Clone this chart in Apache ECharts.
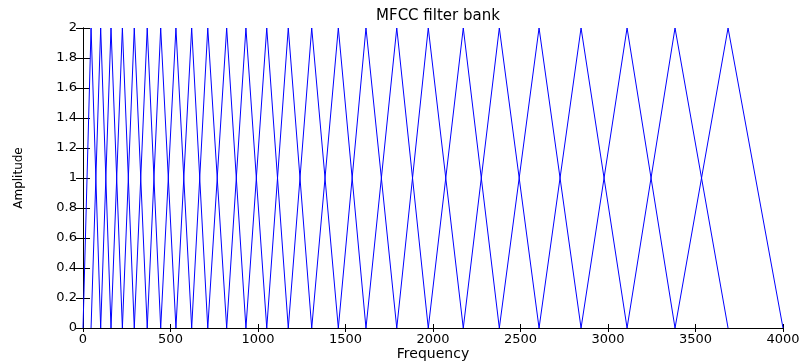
<!DOCTYPE html>
<html>
<head>
<meta charset="utf-8">
<script src="https://cdn.jsdelivr.net/npm/echarts@6/dist/echarts.min.js"></script>
<style>
  html, body { margin: 0; padding: 0; background: #fff; }
  #chart { width: 805px; height: 362px; }
</style>
</head>
<body>
<div id="chart"></div>
<script>
// filter bank (Hz)
const lowEdge = 0;
const highEdge = 4000;
const peakAmp = 2;
const centerFreqs = [
  46, 101, 160, 225, 293, 367, 444, 531, 621, 713, 821, 931, 1050,
  1173, 1307, 1459, 1617, 1793, 1973, 2173, 2379, 2606, 2846, 3109, 3383, 3686,
];
const xTicks = [0, 500, 1000, 1500, 2000, 2500, 3000, 3500, 4000];
const yTicks = [0, 0.2, 0.4, 0.6, 0.8, 1, 1.2, 1.4, 1.6, 1.8, 2];

const edges = [lowEdge, ...centerFreqs, highEdge];
const series = centerFreqs.map((c, i) => ({
  type: "line",
  data: [[edges[i], 0], [c, peakAmp], [edges[i + 2], 0]],
  showSymbol: false,
  lineStyle: { color: "#0000ff", width: 1 },
  animation: false,
  silent: true,
}));

const font = "DejaVu Sans";
const axisLine = { show: true, lineStyle: { color: "#000", width: 1 } };

const chart = echarts.init(document.getElementById("chart"), null, { renderer: "canvas" });
chart.setOption({
  backgroundColor: "#fff",
  title: {
    text: "MFCC filter bank",
    left: 433, top: 4, textAlign: "center",
    textStyle: { fontFamily: font, fontSize: 15, fontWeight: "normal", color: "#000" },
  },
  grid: { left: 83, right: 22, top: 28, bottom: 34, outerBoundsMode: "none", containLabel: false },
  xAxis: [{
    type: "value", min: 0, max: 4000, interval: 500,
    axisLine, splitLine: { show: false },
    axisTick: { inside: true, length: 4, lineStyle: { color: "#000" } },
    axisLabel: { fontFamily: font, fontSize: 13, color: "#000", margin: 5,
      customValues: xTicks, formatter: (v) => String(v) },
    name: "Frequency", nameLocation: "middle", nameGap: 19, nameMoveOverlap: false,
    nameTextStyle: { fontFamily: font, fontSize: 14, color: "#000", lineHeight: 14 },
  }, {
    type: "value", min: 0, max: 4000, interval: 500, position: "top",
    axisLine, splitLine: { show: false }, axisLabel: { show: false },
    axisTick: { inside: true, length: 4, lineStyle: { color: "#000" } },
  }],
  yAxis: [{
    type: "value", min: 0, max: 2, interval: 0.2,
    axisLine, splitLine: { show: false },
    axisTick: { inside: true, length: 7, lineStyle: { color: "#000" } },
    axisLabel: { fontFamily: font, fontSize: 13, color: "#000", margin: 6,
      customValues: yTicks, formatter: (v) => String(+v.toFixed(1)) },
    name: "Amplitude", nameLocation: "middle", nameGap: 58, nameMoveOverlap: false,
    nameTextStyle: { fontFamily: font, fontSize: 12, color: "#000" },
  }, {
    type: "value", min: 0, max: 2, interval: 0.2, position: "right",
    axisLine, splitLine: { show: false }, axisLabel: { show: false },
    axisTick: { inside: true, length: 7, lineStyle: { color: "#000" } },
  }],
  series,
});
</script>
</body>
</html>
